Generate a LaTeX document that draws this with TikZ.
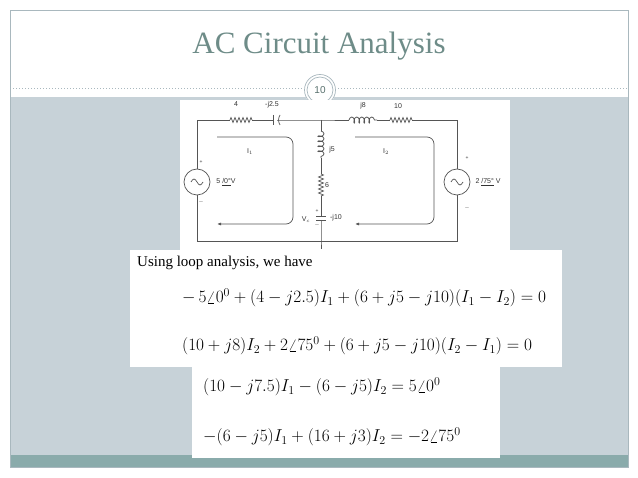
\documentclass[tikz,border=0pt]{standalone}
\usepackage{fontspec}
\setmainfont{Liberation Serif}
\newfontfamily\circfont{Liberation Sans}
\usetikzlibrary{decorations.pathmorphing,arrows.meta}
\definecolor{bodyg}{HTML}{C7D2D8}
\definecolor{strip}{HTML}{8AABAB}
\definecolor{titlec}{HTML}{6E8C88}
\definecolor{framec}{HTML}{A9B8BE}
\definecolor{wire}{HTML}{555555}
\begin{document}
\begin{tikzpicture}[x=1pt,y=-1pt,
  wirest/.style={draw=wire,line width=0.7pt},
  clab/.style={font=\circfont\fontsize{7}{8}\selectfont,text=black!80,inner sep=1pt},
  eq/.style={font=\fontsize{18}{20}\selectfont,anchor=west,inner sep=0pt},
  resh/.style={wirest,decoration={zigzag,segment length=4pt,amplitude=2.5pt},decorate},
  coilh/.style={wirest,decoration={coil,segment length=5pt,amplitude=3pt,aspect=0.5},decorate}]
\useasboundingbox (0,0) rectangle (638,478);
\fill[white] (0,0) rectangle (638,478);
% slide
\fill[bodyg] (10,97) rectangle (628,455);
\fill[strip] (10,455) rectangle (628,467);
\draw[framec,line width=0.8pt] (10,10) rectangle (628,467);
\node[font=\fontsize{31}{34}\selectfont,text=titlec] (title) at (319,46) {AC Circuit Analysis};
\draw[framec,dotted,line width=1pt] (10,89) -- (305,89) (335,89) -- (628,89);
\fill[white] (320,90) circle (16);
\draw[framec,line width=0.7pt] (320,90) circle (15.5) (320,90) circle (13);
\node[font=\circfont\fontsize{10}{11}\selectfont,text=titlec!80!black] (num) at (320,90) {10};
% white panels
\fill[white] (180,100) rectangle (510,250);
\fill[white] (130,250) rectangle (562,367);
\fill[white] (192,367) rectangle (500,458);
% circuit
\coordinate (tl) at (197,120); \coordinate (tr) at (457,120);
\coordinate (bl) at (197,241); \coordinate (br) at (457,241);
\coordinate (tm) at (321,120); \coordinate (bm) at (321,241);
\node[circle,wirest,minimum size=26pt,inner sep=0pt] (vs1) at (197,182) {};
\node[circle,wirest,minimum size=26pt,inner sep=0pt] (vs2) at (457,182) {};
\draw[wirest] (vs1.center) ++(-6,0) sin ++(3,-3) cos ++(3,3) sin ++(3,3) cos ++(3,-3);
\draw[wirest] (vs2.center) ++(-6,0) sin ++(3,-3) cos ++(3,3) sin ++(3,3) cos ++(3,-3);
\draw[wirest] (vs1.north) -- (tl) -- (230,120);
\draw[resh] (230,120) -- (252,120);
\draw[wirest] (252,120) -- (273,120) (277,120) -- (tm) -- (349,120);
\draw[wirest] (273,115) -- (273,125);
\draw[wirest] (280,115) to[bend right=30] (280,125);
\draw[coilh] (349,120) -- (377,120);
\draw[wirest] (377,120) -- (390,120);
\draw[resh] (390,120) -- (412,120);
\draw[wirest] (412,120) -- (tr) -- (vs2.north);
\draw[wirest] (vs2.south) -- (br) -- (bl) -- (vs1.south);
\draw[wirest] (tm) -- (321,131);
\draw[coilh] (321,131) -- (321,158);
\draw[wirest] (321,158) -- (321,174);
\draw[resh] (321,174) -- (321,196);
\draw[wirest] (321,196) -- (321,216) (321,220) -- (bm) -- (321,249);
\draw[wirest] (316,216) -- (326,216) (316,220) -- (326,220);
\node[clab] (l4) at (236,104) {4};
\node[clab] (l25) at (272,105) {-j2.5};
\node[clab] (lj8) at (363,106) {j8};
\node[clab] (l10) at (398,106) {10};
\node[clab] (lj5) at (332,150) {j5};
\node[clab] (l6) at (327,185) {6};
\node[clab] (lj10) at (336,218) {-j10};
\node[clab] (lvc) at (306,220) {V$_{\scriptscriptstyle c}$};
\node[clab,font=\circfont\fontsize{5}{5}\selectfont] (pc) at (317,211) {+};
\node[clab,font=\circfont\fontsize{5}{5}\selectfont] (mc) at (317,225) {$-$};
\node[clab] (s1) at (226,182) {5 \underline{/0°}V};
\node[clab] (s2) at (488,182) {2 \underline{/75°} V};
\node[clab,font=\circfont\fontsize{5}{5}\selectfont] (p1) at (201,162) {+};
\node[clab,font=\circfont\fontsize{5}{5}\selectfont] (m1) at (201,202) {$-$};
\node[clab,font=\circfont\fontsize{5}{5}\selectfont] (p2) at (467,158) {+};
\node[clab,font=\circfont\fontsize{5}{5}\selectfont] (m2) at (467,208) {$-$};
\node[clab] (i1) at (250,152) {I$_{\scriptscriptstyle 1}$};
\node[clab] (i2) at (386,152) {I$_{\scriptscriptstyle 2}$};
\draw[wirest,-{Latex[length=4pt]},rounded corners=7pt] (217,137) -- (293,137) -- (293,224) -- (217,224);
\draw[wirest,-{Latex[length=4pt]},rounded corners=7pt] (355,137) -- (434,137) -- (434,224) -- (355,224);
% text
\node[font=\fontsize{15}{17}\selectfont,anchor=west,inner sep=0pt] (using) at (137,263) {Using loop analysis, we have};
\node[eq] (e1) at (182,298) {$-\,5\angle 0^0 + (4 - j2.5)I_1 + (6 + j5 - j10)(I_1 - I_2) = 0$};
\node[eq] (e2) at (182,346) {$(10 + j8)I_2 + 2\angle 75^0 + (6 + j5 - j10)(I_2 - I_1) = 0$};
\node[eq] (e3) at (203,387) {$(10 - j7.5)I_1 - (6 - j5)I_2 = 5\angle 0^0$};
\node[eq] (e4) at (203,437) {$-(6 - j5)I_1 + (16 + j3)I_2 = -2\angle 75^0$};
\end{tikzpicture}
\end{document}
